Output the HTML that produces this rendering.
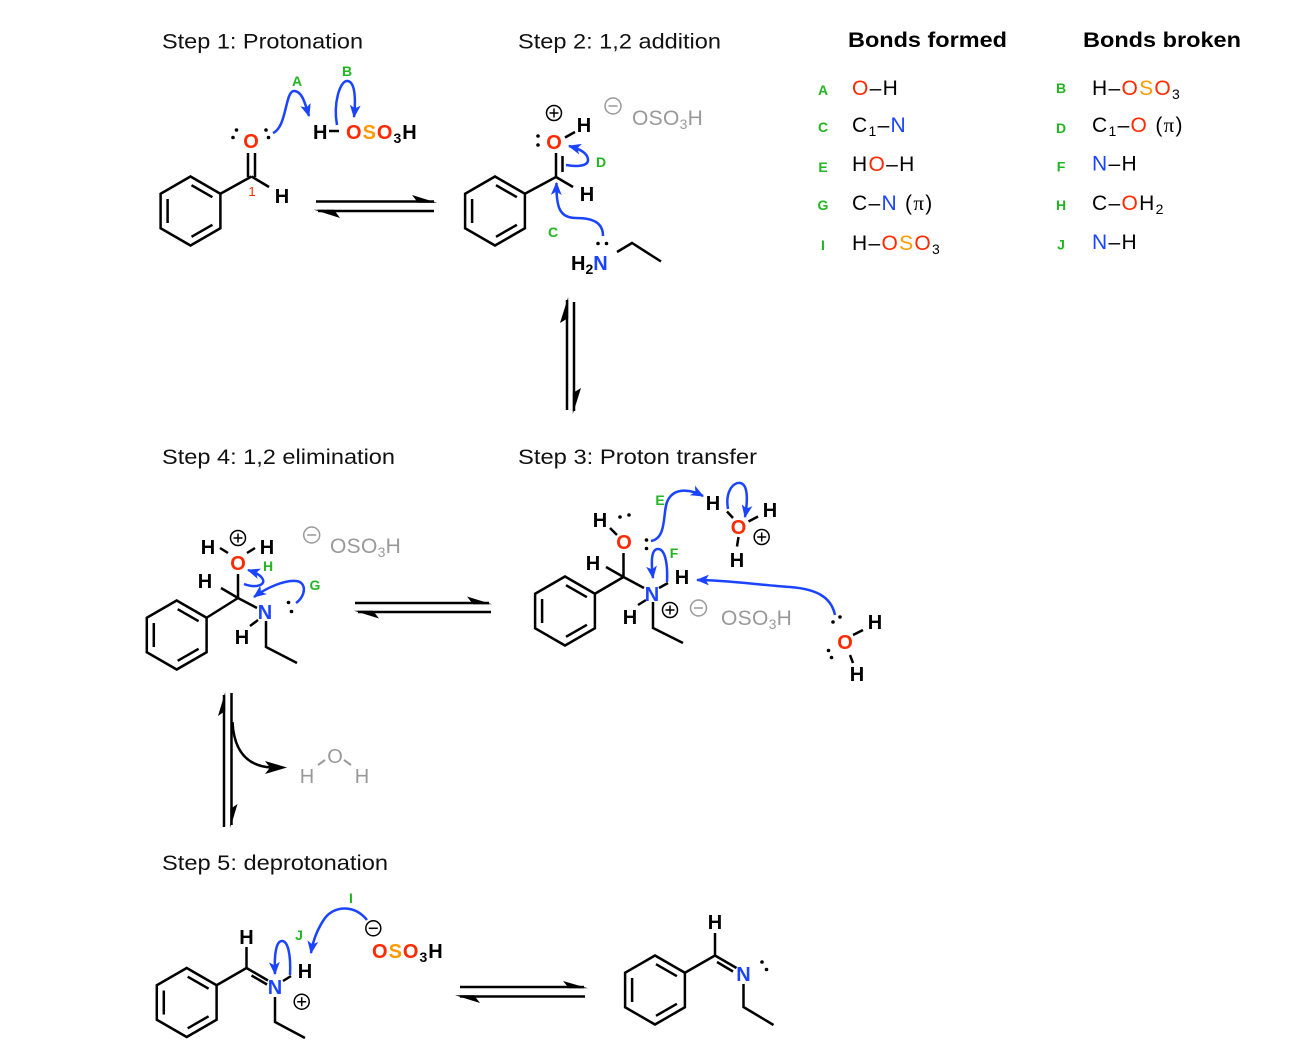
<!DOCTYPE html>
<html><head><meta charset="utf-8">
<style>
html,body{margin:0;padding:0;background:#fff;}
svg{display:block;}
text{font-family:"Liberation Sans",Arial,sans-serif;}
</style></head><body>
<svg width="1294" height="1064" viewBox="0 0 1294 1064" xmlns="http://www.w3.org/2000/svg">
<defs>
<marker id="bh" viewBox="0 0 12 10" refX="11" refY="5" markerWidth="13" markerHeight="11" markerUnits="userSpaceOnUse" orient="auto"><path d="M0,0 L12,5 L0,10 L3,5 z" fill="#1a44ff"/></marker>
</defs>

<!-- Titles -->
<text x="162" y="48.5" font-size="21" textLength="201" lengthAdjust="spacingAndGlyphs" fill="#111">Step 1: Protonation</text>
<text x="518" y="48.5" font-size="21" textLength="203" lengthAdjust="spacingAndGlyphs" fill="#111">Step 2: 1,2 addition</text>
<text x="848" y="47" font-size="21" font-weight="bold" textLength="159" lengthAdjust="spacingAndGlyphs" fill="#000">Bonds formed</text>
<text x="1083" y="47" font-size="21" font-weight="bold" textLength="158" lengthAdjust="spacingAndGlyphs" fill="#000">Bonds broken</text>
<text x="162" y="464" font-size="21" textLength="233" lengthAdjust="spacingAndGlyphs" fill="#111">Step 4: 1,2 elimination</text>
<text x="518" y="464" font-size="21" textLength="239" lengthAdjust="spacingAndGlyphs" fill="#111">Step 3: Proton transfer</text>
<text x="162" y="870" font-size="21" textLength="226" lengthAdjust="spacingAndGlyphs" fill="#111">Step 5: deprotonation</text>

<!-- Table -->
<g font-size="14" font-weight="bold" fill="#22b522" text-anchor="middle">
<text x="823" y="95">A</text>
<text x="823" y="132">C</text>
<text x="823" y="172">E</text>
<text x="823" y="210">G</text>
<text x="823" y="250">I</text>
<text x="1061" y="93">B</text>
<text x="1061" y="133">D</text>
<text x="1061" y="171.5">F</text>
<text x="1061" y="210">H</text>
<text x="1061" y="249.5">J</text>
</g>
<g font-size="21" fill="#000" letter-spacing="1.3">
<text x="852" y="95"><tspan fill="#ff2a00">O</tspan>–H</text>
<text x="852" y="132">C<tspan font-size="14" dy="4">1</tspan><tspan dy="-4">–</tspan><tspan fill="#1a44ff">N</tspan></text>
<text x="852" y="171">H<tspan fill="#ff2a00">O</tspan>–H</text>
<text x="852" y="210">C–<tspan fill="#1a44ff">N</tspan> (<tspan font-family="Liberation Serif, serif">π</tspan>)</text>
<text x="852" y="250">H–<tspan fill="#ff2a00">O</tspan><tspan fill="#ff9a00">S</tspan><tspan fill="#ff2a00">O</tspan><tspan font-size="14" dy="4">3</tspan></text>
<text x="1092" y="95">H–<tspan fill="#ff2a00">O</tspan><tspan fill="#ff9a00">S</tspan><tspan fill="#ff2a00">O</tspan><tspan font-size="14" dy="4">3</tspan></text>
<text x="1092" y="132">C<tspan font-size="14" dy="4">1</tspan><tspan dy="-4">–</tspan><tspan fill="#ff2a00">O</tspan> (<tspan font-family="Liberation Serif, serif">π</tspan>)</text>
<text x="1092" y="170.5"><tspan fill="#1a44ff">N</tspan>–H</text>
<text x="1092" y="210">C–<tspan fill="#ff2a00">O</tspan>H<tspan font-size="14" dy="4">2</tspan></text>
<text x="1092" y="249"><tspan fill="#1a44ff">N</tspan>–H</text>
</g>

<!-- ============ STEP 1 ============ -->
<g fill="none" stroke="#000" stroke-width="2.5" transform="translate(190.5,211)">
<polygon points="0,-34.5 29.9,-17.25 29.9,17.25 0,34.5 -29.9,17.25 -29.9,-17.25"/>
<line x1="-22.9" y1="-12" x2="-22.9" y2="12"/>
<line x1="1" y1="-25.8" x2="21.9" y2="-13.8"/>
<line x1="21.9" y1="13.8" x2="1" y2="25.8"/>
</g>
<g fill="none" stroke="#000" stroke-width="2.5">
<line x1="220.4" y1="193.75" x2="251.5" y2="176.5"/>
<line x1="248" y1="153" x2="248" y2="177"/>
<line x1="255" y1="153" x2="255" y2="177"/>
<line x1="251.5" y1="176.5" x2="269" y2="187"/>
<line x1="329" y1="131" x2="339" y2="131"/>
</g>
<text x="251" y="148" font-size="20" font-weight="bold" fill="#ff2a00" text-anchor="middle">O</text>
<text x="282" y="203" font-size="20" font-weight="bold" fill="#000" text-anchor="middle">H</text>
<text x="252" y="196" font-size="13" fill="#ff2a00" text-anchor="middle">1</text>
<g fill="#000">
<circle cx="233" cy="137.5" r="1.8"/><circle cx="236.5" cy="130" r="1.8"/>
<circle cx="266" cy="130" r="1.8"/><circle cx="268.5" cy="137.5" r="1.8"/>
</g>
<text x="313" y="139" font-size="20" font-weight="bold" fill="#000">H</text>
<text x="346" y="139" font-size="20" font-weight="bold" fill="#000" letter-spacing="1"><tspan fill="#ff2a00">O</tspan><tspan fill="#ff9a00">S</tspan><tspan fill="#ff2a00">O</tspan><tspan font-size="14" dy="4">3</tspan><tspan dy="-4">H</tspan></text>
<path d="M 273 133 C 287 127, 285 91, 294 91 C 302 91, 305 103, 309 116" fill="none" stroke="#1a44ff" stroke-width="2.5" marker-end="url(#bh)"/>
<path d="M 337 125 C 333 103, 340 81, 347 81 C 355 81, 356 98, 354 117" fill="none" stroke="#1a44ff" stroke-width="2.5" marker-end="url(#bh)"/>
<text x="297" y="86" font-size="14" font-weight="bold" fill="#22b522" text-anchor="middle">A</text>
<text x="347" y="76" font-size="14" font-weight="bold" fill="#22b522" text-anchor="middle">B</text>

<!-- eq arrow 1-2 -->
<g stroke="#000" stroke-width="2.5">
<line x1="316" y1="201.5" x2="434" y2="201.5"/>
<line x1="318" y1="211" x2="434" y2="211"/>
</g>
<polygon points="437,202.7 412,195 418,202.7" fill="#000"/>
<polygon points="314,209.8 340,218 334,209.8" fill="#000"/>

<!-- ============ STEP 2 ============ -->
<g fill="none" stroke="#000" stroke-width="2.5" transform="translate(495,211)">
<polygon points="0,-34.5 29.9,-17.25 29.9,17.25 0,34.5 -29.9,17.25 -29.9,-17.25"/>
<line x1="-22.9" y1="-12" x2="-22.9" y2="12"/>
<line x1="1" y1="-25.8" x2="21.9" y2="-13.8"/>
<line x1="21.9" y1="13.8" x2="1" y2="25.8"/>
</g>
<g fill="none" stroke="#000" stroke-width="2.5">
<line x1="524.9" y1="193.75" x2="556" y2="177"/>
<line x1="556" y1="153" x2="556" y2="177"/>
<line x1="562.5" y1="156" x2="562.5" y2="172"/>
<line x1="556" y1="177" x2="573" y2="187"/>
<line x1="565" y1="137.5" x2="575" y2="132"/>
<polyline points="617,252 632,243 661,261.5"/>
</g>
<text x="554" y="149" font-size="20" font-weight="bold" fill="#ff2a00" text-anchor="middle">O</text>
<g fill="#000"><circle cx="538" cy="136" r="1.8"/><circle cx="538" cy="145" r="1.8"/></g>
<g fill="none" stroke="#000" stroke-width="1.5"><circle cx="554" cy="113" r="7.5"/><path d="M549.5 113 h9 M554 108.5 v9"/></g>
<text x="584" y="132" font-size="20" font-weight="bold" fill="#000" text-anchor="middle">H</text>
<text x="587" y="201" font-size="20" font-weight="bold" fill="#000" text-anchor="middle">H</text>
<g fill="none" stroke="#999" stroke-width="1.5"><circle cx="613" cy="106" r="8"/><path d="M608.5 106 h9"/></g>
<text x="632" y="125" font-size="21" fill="#999" letter-spacing="0.3">OSO<tspan font-size="14" dy="4">3</tspan><tspan dy="-4">H</tspan></text>
<text x="571" y="270" font-size="20" font-weight="bold" fill="#000">H<tspan font-size="14" dy="4">2</tspan><tspan dy="-4" fill="#1a44ff">N</tspan></text>
<g fill="#000"><circle cx="598" cy="243.5" r="1.8"/><circle cx="606.5" cy="243.5" r="1.8"/></g>
<path d="M 566 165 C 578 167, 588 166, 588 160 C 588 153, 580 149, 569 146" fill="none" stroke="#1a44ff" stroke-width="2.5" marker-end="url(#bh)"/>
<path d="M 603 236 C 603 222, 592 218, 576 218 C 560 218, 556 208, 556.5 183" fill="none" stroke="#1a44ff" stroke-width="2.5" marker-end="url(#bh)"/>
<text x="601" y="167" font-size="14" font-weight="bold" fill="#22b522" text-anchor="middle">D</text>
<text x="553" y="237" font-size="14" font-weight="bold" fill="#22b522" text-anchor="middle">C</text>

<!-- vertical eq 2-3 -->
<g stroke="#000" stroke-width="2.5">
<line x1="567" y1="300" x2="567" y2="410"/>
<line x1="574" y1="302" x2="574" y2="411"/>
</g>
<polygon points="568.2,297 560,323 568.2,318" fill="#000"/>
<polygon points="572.8,414 581,388 572.8,393" fill="#000"/>

<!-- ============ STEP 4 ============ -->
<g fill="none" stroke="#000" stroke-width="2.5" transform="translate(176.7,635)">
<polygon points="0,-34.5 29.9,-17.25 29.9,17.25 0,34.5 -29.9,17.25 -29.9,-17.25"/>
<line x1="-22.9" y1="-12" x2="-22.9" y2="12"/>
<line x1="1" y1="-25.8" x2="21.9" y2="-13.8"/>
<line x1="21.9" y1="13.8" x2="1" y2="25.8"/>
</g>
<g fill="none" stroke="#000" stroke-width="2.5">
<line x1="206.6" y1="617.75" x2="238" y2="598"/>
<line x1="238" y1="598" x2="238" y2="574"/>
<line x1="238" y1="598" x2="221" y2="588"/>
<line x1="238" y1="598" x2="257" y2="608"/>
<line x1="258" y1="620" x2="250" y2="626"/>
<polyline points="266,621 266,647 297,663"/>
<line x1="228" y1="553" x2="220" y2="548"/>
<line x1="247" y1="553" x2="255" y2="548"/>
</g>
<text x="238" y="570" font-size="20" font-weight="bold" fill="#ff2a00" text-anchor="middle">O</text>
<g fill="none" stroke="#000" stroke-width="1.5"><circle cx="238" cy="538" r="7.5"/><path d="M233.5 538 h9 M238 533.5 v9"/></g>
<text x="208" y="554" font-size="20" font-weight="bold" fill="#000" text-anchor="middle">H</text>
<text x="267" y="554" font-size="20" font-weight="bold" fill="#000" text-anchor="middle">H</text>
<text x="205" y="588" font-size="20" font-weight="bold" fill="#000" text-anchor="middle">H</text>
<text x="265" y="619" font-size="20" font-weight="bold" fill="#1a44ff" text-anchor="middle">N</text>
<text x="242" y="644" font-size="20" font-weight="bold" fill="#000" text-anchor="middle">H</text>
<g fill="#000"><circle cx="288.5" cy="602.5" r="1.8"/><circle cx="291.5" cy="611.5" r="1.8"/></g>
<g fill="none" stroke="#999" stroke-width="1.5"><circle cx="311.7" cy="535" r="8"/><path d="M307.2 535 h9"/></g>
<text x="330" y="553" font-size="21" fill="#999" letter-spacing="0.3">OSO<tspan font-size="14" dy="4">3</tspan><tspan dy="-4">H</tspan></text>
<path d="M 296 603 C 306 596, 307 582, 296 581 C 284 580, 266 588, 254 597" fill="none" stroke="#1a44ff" stroke-width="2.5" marker-end="url(#bh)"/>
<path d="M 244 584 C 257 589, 267 584, 262 578 C 259 574, 254 572, 248 570" fill="none" stroke="#1a44ff" stroke-width="2.5" marker-end="url(#bh)"/>
<text x="315" y="590" font-size="14" font-weight="bold" fill="#22b522" text-anchor="middle">G</text>
<text x="268" y="571" font-size="14" font-weight="bold" fill="#22b522" text-anchor="middle">H</text>

<!-- eq 3-4 -->
<g stroke="#000" stroke-width="2.5">
<line x1="355" y1="603" x2="489" y2="603"/>
<line x1="358" y1="612" x2="491" y2="612"/>
</g>
<polygon points="492,604.2 467,596.5 473,604.2" fill="#000"/>
<polygon points="354,610.8 379,618.5 373,610.8" fill="#000"/>

<!-- ============ STEP 3 ============ -->
<g fill="none" stroke="#000" stroke-width="2.5" transform="translate(565,611)">
<polygon points="0,-34.5 29.9,-17.25 29.9,17.25 0,34.5 -29.9,17.25 -29.9,-17.25"/>
<line x1="-22.9" y1="-12" x2="-22.9" y2="12"/>
<line x1="1" y1="-25.8" x2="21.9" y2="-13.8"/>
<line x1="21.9" y1="13.8" x2="1" y2="25.8"/>
</g>
<g fill="none" stroke="#000" stroke-width="2.5">
<line x1="594.9" y1="593.75" x2="623.5" y2="577"/>
<line x1="623.5" y1="577" x2="623.5" y2="553"/>
<line x1="623.5" y1="577" x2="606" y2="567"/>
<line x1="617" y1="535" x2="610" y2="528"/>
<line x1="623.5" y1="577" x2="644" y2="588"/>
<line x1="659" y1="588" x2="668" y2="583"/>
<line x1="646" y1="600" x2="638" y2="605"/>
<polyline points="653,602 653,628 683,643"/>
<line x1="727" y1="511.5" x2="733" y2="518"/>
<line x1="748.5" y1="521.5" x2="758" y2="516.5"/>
<line x1="738.5" y1="537" x2="737" y2="546.5"/>
<line x1="853" y1="635" x2="863" y2="630"/>
<line x1="850" y1="655" x2="853" y2="663"/>
</g>
<text x="624" y="549" font-size="20" font-weight="bold" fill="#ff2a00" text-anchor="middle">O</text>
<text x="600" y="527" font-size="20" font-weight="bold" fill="#000" text-anchor="middle">H</text>
<text x="593" y="570" font-size="20" font-weight="bold" fill="#000" text-anchor="middle">H</text>
<g fill="#000">
<circle cx="620" cy="517" r="1.8"/><circle cx="629" cy="515" r="1.8"/>
<circle cx="646.5" cy="540" r="1.8"/><circle cx="646.5" cy="548.5" r="1.8"/>
</g>
<text x="652" y="601" font-size="20" font-weight="bold" fill="#1a44ff" text-anchor="middle">N</text>
<text x="682" y="584" font-size="20" font-weight="bold" fill="#000" text-anchor="middle">H</text>
<text x="630" y="624" font-size="20" font-weight="bold" fill="#000" text-anchor="middle">H</text>
<g fill="none" stroke="#000" stroke-width="1.5"><circle cx="670" cy="610" r="7.5"/><path d="M665.5 610 h9 M670 605.5 v9"/></g>
<g fill="none" stroke="#999" stroke-width="1.5"><circle cx="698.5" cy="608" r="8"/><path d="M694 608 h9"/></g>
<text x="721" y="625" font-size="21" fill="#999" letter-spacing="0.3">OSO<tspan font-size="14" dy="4">3</tspan><tspan dy="-4">H</tspan></text>
<!-- H3O+ -->
<text x="713" y="510" font-size="20" font-weight="bold" fill="#000" text-anchor="middle">H</text>
<text x="738.5" y="534" font-size="20" font-weight="bold" fill="#ff2a00" text-anchor="middle">O</text>
<text x="770" y="517" font-size="20" font-weight="bold" fill="#000" text-anchor="middle">H</text>
<text x="737" y="567" font-size="20" font-weight="bold" fill="#000" text-anchor="middle">H</text>
<g fill="none" stroke="#000" stroke-width="1.5"><circle cx="761.7" cy="537" r="7.5"/><path d="M757.2 537 h9 M761.7 532.5 v9"/></g>
<!-- water -->
<text x="845" y="649" font-size="20" font-weight="bold" fill="#ff2a00" text-anchor="middle">O</text>
<text x="875" y="629" font-size="20" font-weight="bold" fill="#000" text-anchor="middle">H</text>
<text x="857" y="681" font-size="20" font-weight="bold" fill="#000" text-anchor="middle">H</text>
<g fill="#000">
<circle cx="833" cy="622" r="1.8"/><circle cx="840" cy="617" r="1.8"/>
<circle cx="828.5" cy="650.5" r="1.8"/><circle cx="831.5" cy="657.5" r="1.8"/>
</g>
<path d="M 651 541 C 668 538, 662 510, 668 500 C 673 490, 686 487, 703 496" fill="none" stroke="#1a44ff" stroke-width="2.5" marker-end="url(#bh)"/>
<path d="M 728 509 C 725 492, 733 482, 740 483 C 748 484, 748 500, 745 517" fill="none" stroke="#1a44ff" stroke-width="2.5" marker-end="url(#bh)"/>
<path d="M 667 582 C 668 560, 664 549, 658 549 C 651 549, 651 562, 653 578" fill="none" stroke="#1a44ff" stroke-width="2.5" marker-end="url(#bh)"/>
<path d="M 835 615 C 831 596, 815 589, 790 587 C 760 585, 725 580, 697 580" fill="none" stroke="#1a44ff" stroke-width="2.5" marker-end="url(#bh)"/>
<text x="660" y="505" font-size="14" font-weight="bold" fill="#22b522" text-anchor="middle">E</text>
<text x="674" y="558" font-size="14" font-weight="bold" fill="#22b522" text-anchor="middle">F</text>

<!-- vertical eq 4-5 -->
<g stroke="#000" stroke-width="2.5" fill="none">
<line x1="224" y1="695" x2="224" y2="827"/>
<line x1="231.5" y1="693" x2="231.5" y2="825"/>
<path d="M 232.5 722 C 234 752, 248 766, 271 767.5"/>
</g>
<polygon points="225.2,692 218,716 225.2,711" fill="#000"/>
<polygon points="230.3,828 237.5,804 230.3,809" fill="#000"/>
<polygon points="287,767.5 265,761 270,767.5 265,774" fill="#000"/>
<g stroke="#999" stroke-width="2">
<line x1="318" y1="765" x2="325" y2="760"/>
<line x1="344" y1="760" x2="351" y2="765"/>
</g>
<text x="307" y="783" font-size="20" fill="#999" text-anchor="middle">H</text>
<text x="335" y="763" font-size="20" fill="#999" text-anchor="middle">O</text>
<text x="362" y="783" font-size="20" fill="#999" text-anchor="middle">H</text>

<!-- ============ STEP 5 ============ -->
<g fill="none" stroke="#000" stroke-width="2.5" transform="translate(186.7,1002.5)">
<polygon points="0,-34.5 29.9,-17.25 29.9,17.25 0,34.5 -29.9,17.25 -29.9,-17.25"/>
<line x1="-22.9" y1="-12" x2="-22.9" y2="12"/>
<line x1="1" y1="-25.8" x2="21.9" y2="-13.8"/>
<line x1="21.9" y1="13.8" x2="1" y2="25.8"/>
</g>
<g fill="none" stroke="#000" stroke-width="2.5">
<line x1="216.6" y1="985.25" x2="246.5" y2="968"/>
<line x1="246.5" y1="968" x2="246.5" y2="947"/>
<line x1="246.5" y1="968" x2="268" y2="980.5"/>
<line x1="251.5" y1="975.5" x2="267" y2="984.5"/>
<line x1="283" y1="981" x2="291" y2="976"/>
<polyline points="275,997 275,1022 305,1038"/>
</g>
<text x="246.5" y="944" font-size="20" font-weight="bold" fill="#000" text-anchor="middle">H</text>
<text x="275" y="994" font-size="20" font-weight="bold" fill="#1a44ff" text-anchor="middle">N</text>
<text x="305" y="978" font-size="20" font-weight="bold" fill="#000" text-anchor="middle">H</text>
<g fill="none" stroke="#000" stroke-width="1.5"><circle cx="301.7" cy="1001.7" r="7.5"/><path d="M297.2 1001.7 h9 M301.7 997.2 v9"/></g>
<g fill="none" stroke="#000" stroke-width="1.5"><circle cx="373.3" cy="928.3" r="7.5"/><path d="M368.8 928.3 h9"/></g>
<text x="372" y="958" font-size="20" font-weight="bold" fill="#000" letter-spacing="1"><tspan fill="#ff2a00">O</tspan><tspan fill="#ff9a00">S</tspan><tspan fill="#ff2a00">O</tspan><tspan font-size="14" dy="4">3</tspan><tspan dy="-4">H</tspan></text>
<path d="M 290 975 C 291 955, 288 941, 282 941 C 276 941, 274 955, 275 974" fill="none" stroke="#1a44ff" stroke-width="2.5" marker-end="url(#bh)"/>
<path d="M 367 920 C 355 905, 335 905, 325 918 C 318 928, 313 940, 311 953" fill="none" stroke="#1a44ff" stroke-width="2.5" marker-end="url(#bh)"/>
<text x="299" y="940" font-size="14" font-weight="bold" fill="#22b522" text-anchor="middle">J</text>
<text x="351" y="903" font-size="14" font-weight="bold" fill="#22b522" text-anchor="middle">I</text>

<!-- eq 5 -->
<g stroke="#000" stroke-width="2.5">
<line x1="460" y1="987" x2="584" y2="987"/>
<line x1="460" y1="996.5" x2="585" y2="996.5"/>
</g>
<polygon points="588,988.2 563,981 569,988.2" fill="#000"/>
<polygon points="455,995.3 480,1003 474,995.3" fill="#000"/>

<!-- ============ FINAL PRODUCT ============ -->
<g fill="none" stroke="#000" stroke-width="2.5" transform="translate(655,990)">
<polygon points="0,-34.5 29.9,-17.25 29.9,17.25 0,34.5 -29.9,17.25 -29.9,-17.25"/>
<line x1="-22.9" y1="-12" x2="-22.9" y2="12"/>
<line x1="1" y1="-25.8" x2="21.9" y2="-13.8"/>
<line x1="21.9" y1="13.8" x2="1" y2="25.8"/>
</g>
<g fill="none" stroke="#000" stroke-width="2.5">
<line x1="684.9" y1="972.75" x2="715" y2="955.5"/>
<line x1="715" y1="955.5" x2="715" y2="933"/>
<line x1="715" y1="955.5" x2="736.5" y2="968"/>
<line x1="717" y1="962" x2="733" y2="971.5"/>
<polyline points="743.5,984 743.5,1007 773.5,1025"/>
</g>
<text x="715" y="929" font-size="20" font-weight="bold" fill="#000" text-anchor="middle">H</text>
<text x="743.5" y="981" font-size="20" font-weight="bold" fill="#1a44ff" text-anchor="middle">N</text>
<g fill="#000"><circle cx="762" cy="962" r="1.8"/><circle cx="766.5" cy="969.5" r="1.8"/></g>

</svg>
</body></html>
